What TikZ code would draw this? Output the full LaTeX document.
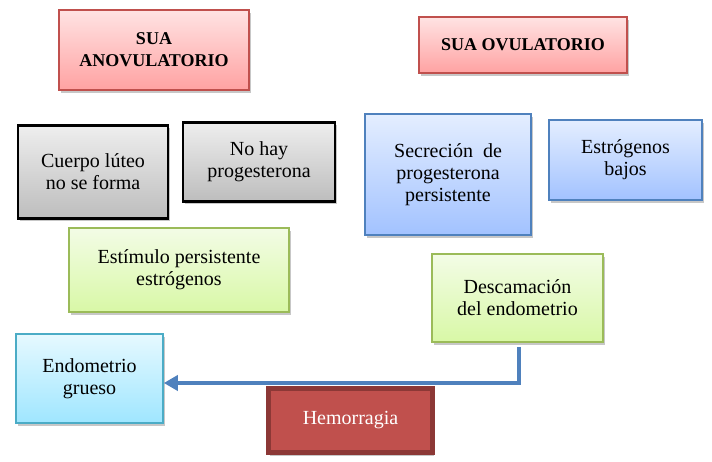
\documentclass[tikz,border=0pt]{standalone}
\usepackage{fontspec}
\setmainfont{Liberation Serif}
\usetikzlibrary{shadows,arrows.meta}
\definecolor{redB}{HTML}{C0504D}
\definecolor{redT}{HTML}{FFE3E3}
\definecolor{redBot}{HTML}{FFA2A2}
\definecolor{grayT}{HTML}{EEEEEE}
\definecolor{grayBot}{HTML}{BDBDBD}
\definecolor{greenB}{HTML}{9BBB59}
\definecolor{greenT}{HTML}{F3FCE6}
\definecolor{greenBot}{HTML}{D8F8A6}
\definecolor{blueB}{HTML}{4F81BD}
\definecolor{blueT}{HTML}{E4EEFF}
\definecolor{blueBot}{HTML}{A2C2FF}
\definecolor{cyanB}{HTML}{4BACC6}
\definecolor{cyanT}{HTML}{E6F9FF}
\definecolor{cyanBot}{HTML}{9FE6FF}
\definecolor{hemoF}{HTML}{C0504D}
\definecolor{hemoB}{HTML}{8C3836}
\begin{document}
\begin{tikzpicture}[x=1pt,y=-1pt,
  box/.style={rectangle, inner sep=2pt, align=center,
    font=\fontsize{20}{22}\selectfont,
    drop shadow={shadow xshift=1.5pt, shadow yshift=-3pt, opacity=0.22, fill=black}},
  redbox/.style={box, draw=redB, line width=1.6pt, top color=redT, bottom color=redBot,
    font=\fontsize{18}{22}\selectfont\bfseries},
  graybox/.style={box, draw=black, line width=2.6pt, top color=grayT, bottom color=grayBot},
  greenbox/.style={box, draw=greenB, line width=1.6pt, top color=greenT, bottom color=greenBot},
  bluebox/.style={box, draw=blueB, line width=1.6pt, top color=blueT, bottom color=blueBot},
  cyanbox/.style={box, draw=cyanB, line width=1.6pt, top color=cyanT, bottom color=cyanBot},
  hemobox/.style={box, draw=hemoB, line width=5pt, fill=hemoF, text=white},
  conn/.style={draw=blueB, line width=4pt,
    -{Triangle[length=14pt,width=15pt]}}
]
\fill[white] (0,0) rectangle (712,462);
\useasboundingbox (0,0) rectangle (712,462);

\node[redbox, minimum width=190pt, minimum height=80pt] (anov) at (154,50) {SUA\\ANOVULATORIO};
\node[redbox, minimum width=208pt, minimum height=56pt] (ovul) at (523,45) {SUA OVULATORIO};

\node[graybox, minimum width=150pt, minimum height=93pt] (cuerpo) at (93,172) {Cuerpo lúteo\\no se forma};
\node[graybox, minimum width=152pt, minimum height=79pt] (nohay) at (259,162) {No hay\\progesterona};

\node[greenbox, minimum width=220pt, minimum height=84pt] (estim) at (179,270) {Estímulo persistente\\estrógenos};

\node[bluebox, minimum width=166pt, minimum height=121pt] (secre) at (448,174.5) {Secreción\ \ de\\progesterona\\persistente};
\node[bluebox, minimum width=153pt, minimum height=80pt] (estro) at (625.5,160) {Estrógenos\\bajos};

\node[greenbox, minimum width=171pt, minimum height=88pt] (desca) at (517.5,298) {Descamación\\del endometrio};

\node[cyanbox, minimum width=147pt, minimum height=89pt] (endo) at (89.5,378.5) {Endometrio\\grueso};

\node[hemobox, minimum width=164pt, minimum height=64pt] (hemo) at (350.5,420.5) {Hemorragia};

\draw[conn] ([xshift=1.5pt,yshift=-4pt]desca.south) |- ([yshift=-4.5pt]endo.east);
\end{tikzpicture}
\end{document}
